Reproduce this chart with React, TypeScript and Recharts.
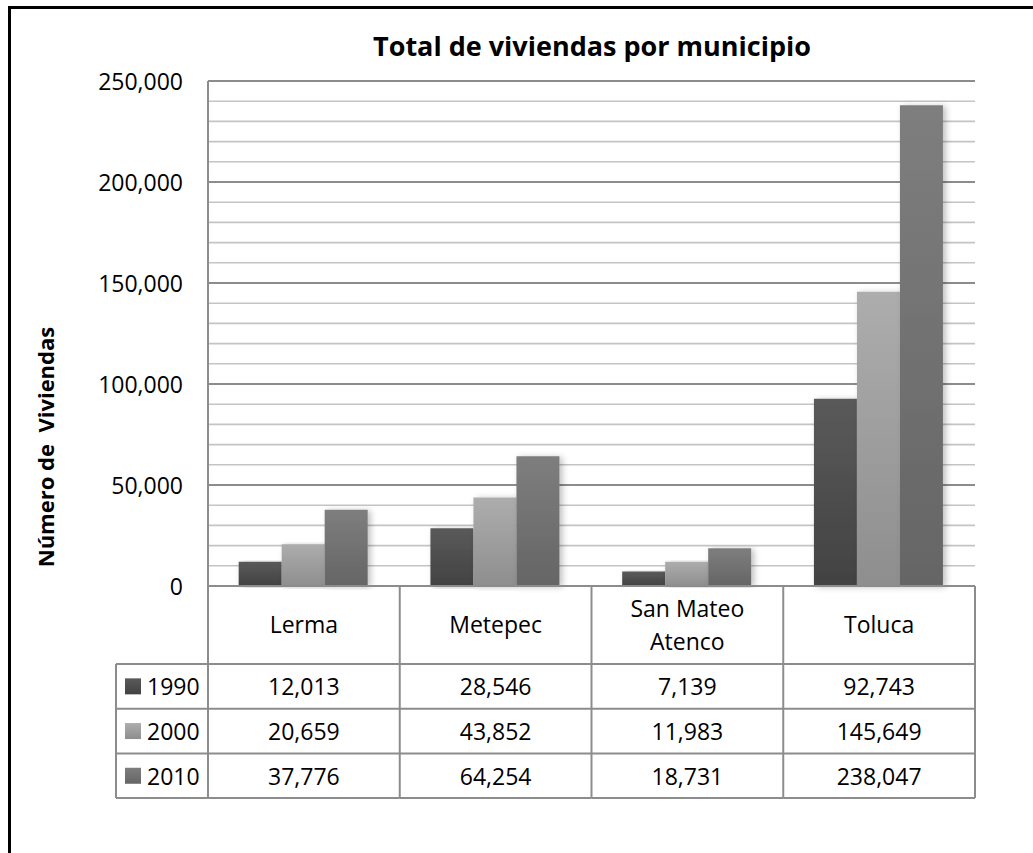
import React from "react";
import { Bar, BarChart, CartesianGrid, Text, XAxis, YAxis } from "recharts";

const CATEGORIES = ["Lerma", "Metepec", "San Mateo Atenco", "Toluca"];
const YEARS = ["1990", "2000", "2010"];
const V1990 = [12013, 28546, 7139, 92743];
const V2000 = [20659, 43852, 11983, 145649];
const V2010 = [37776, 64254, 18731, 238047];
const Y_TICKS = [
  0, 10000, 20000, 30000, 40000, 50000, 60000, 70000, 80000, 90000, 100000,
  110000, 120000, 130000, 140000, 150000, 160000, 170000, 180000, 190000,
  200000, 210000, 220000, 230000, 240000, 250000,
];
const Y_LABELED = [0, 50000, 100000, 150000, 200000, 250000];

const SERIES = [
  { key: "y1990", grad: "g1990", values: V1990 },
  { key: "y2000", grad: "g2000", values: V2000 },
  { key: "y2010", grad: "g2010", values: V2010 },
];

const data = CATEGORIES.map((name, i) => ({
  name,
  y1990: V1990[i],
  y2000: V2000[i],
  y2010: V2010[i],
}));

// layout
const W = 1033;
const H = 853;
const PLOT_LEFT = 208;
const PLOT_RIGHT = 975;
const PLOT_TOP = 81;
const PLOT_BOTTOM = 586;
const BAND = (PLOT_RIGHT - PLOT_LEFT) / CATEGORIES.length;
const HEADER_H = 78;
const ROW_H = 44.7;
const LEGEND_W = 92;
const LINE = "#8c8c8c";
const FONT = "'Open Sans', sans-serif";
const FS = 23;

const fmt = (v: number) => v.toLocaleString("en-US");

function YTick({ x, y, payload }: any) {
  if (!Y_LABELED.includes(payload.value)) return <g />;
  return (
    <text
      x={x}
      y={y}
      textAnchor="end"
      dominantBaseline="central"
      fontFamily={FONT}
      fontSize={FS}
      fill="#000"
    >
      {fmt(payload.value)}
    </text>
  );
}

function TableTick({ x, y, payload, index }: any) {
  const i = index ?? CATEGORIES.indexOf(payload.value);
  const left = x - BAND / 2;
  const right = x + BAND / 2;
  const bottom = y + HEADER_H + ROW_H * YEARS.length;
  return (
    <g>
      {i === 0 && (
        <g>
          <line x1={left} y1={y} x2={left} y2={bottom} stroke={LINE} strokeWidth={2} />
          <line
            x1={left - LEGEND_W}
            y1={y + HEADER_H}
            x2={left - LEGEND_W}
            y2={bottom}
            stroke={LINE}
            strokeWidth={2}
          />
          {YEARS.map((yr, r) => {
            const cy = y + HEADER_H + ROW_H * r + ROW_H / 2;
            return (
              <g key={yr}>
                <line
                  x1={left - LEGEND_W}
                  y1={y + HEADER_H + ROW_H * r}
                  x2={left}
                  y2={y + HEADER_H + ROW_H * r}
                  stroke={LINE}
                  strokeWidth={2}
                />
                <rect
                  x={left - LEGEND_W + 9}
                  y={cy - 8}
                  width={16}
                  height={16}
                  fill={`url(#${SERIES[r].grad})`}
                />
                <text
                  x={left - LEGEND_W + 31}
                  y={cy}
                  dominantBaseline="central"
                  fontFamily={FONT}
                  fontSize={FS}
                  fill="#000"
                >
                  {yr}
                </text>
              </g>
            );
          })}
          <line
            x1={left - LEGEND_W}
            y1={bottom}
            x2={left}
            y2={bottom}
            stroke={LINE}
            strokeWidth={2}
          />
        </g>
      )}
      <line x1={right} y1={y} x2={right} y2={bottom} stroke={LINE} strokeWidth={2} />
      <Text
        x={x}
        y={y + HEADER_H / 2}
        width={130}
        textAnchor="middle"
        verticalAnchor="middle"
        lineHeight="1.43em"
        style={{ fontFamily: FONT, fontSize: FS }}
        fontFamily={FONT}
        fontSize={FS}
        fill="#000"
      >
        {payload.value}
      </Text>
      {SERIES.map((s, r) => {
        const top = y + HEADER_H + ROW_H * r;
        return (
          <g key={s.key}>
            <line x1={left} y1={top} x2={right} y2={top} stroke={LINE} strokeWidth={2} />
            <text
              x={x}
              y={top + ROW_H / 2}
              textAnchor="middle"
              dominantBaseline="central"
              fontFamily={FONT}
              fontSize={FS}
              fill="#000"
            >
              {fmt(s.values[i])}
            </text>
          </g>
        );
      })}
      <line x1={left} y1={bottom} x2={right} y2={bottom} stroke={LINE} strokeWidth={2} />
    </g>
  );
}

function GridLine(props: any) {
  const { x1, x2, y1, y2, index } = props;
  const major = index % 5 === 0;
  return (
    <line
      key={props.key}
      x1={x1}
      x2={x2}
      y1={y1}
      y2={y2}
      stroke={major ? "#8c8c8c" : "#c4c4c4"}
      strokeWidth={major ? 2 : 1.6}
    />
  );
}

export default function App() {
  return (
    <div
      style={{
        position: "fixed",
        left: 0,
        top: 0,
        width: W,
        height: H,
        background: "#fff",
        overflow: "hidden",
        fontFamily: FONT,
      }}
    >
      {/* outer frame, only top and left edges fall inside the picture */}
      <div
        style={{
          position: "absolute",
          left: 8,
          top: 6,
          width: 1200,
          height: 1000,
          border: "3px solid #000",
        }}
      />
      <div
        style={{
          position: "absolute",
          left: 592,
          top: 45,
          transform: "translate(-50%, -50%)",
          fontWeight: 700,
          fontSize: 27,
          whiteSpace: "nowrap",
        }}
      >
        Total de viviendas por municipio
      </div>
      <div
        style={{
          position: "absolute",
          left: 45,
          top: 447,
          transform: "translate(-50%, -50%) rotate(-90deg)",
          fontWeight: 700,
          fontSize: 22,
          whiteSpace: "pre",
        }}
      >
        Número de  Viviendas
      </div>
      <div style={{ position: "absolute", left: 0, top: 0 }}>
        <BarChart
          width={W}
          height={H}
          data={data}
          margin={{
            top: PLOT_TOP,
            right: W - PLOT_RIGHT,
            left: PLOT_LEFT - 100,
            bottom: H - PLOT_BOTTOM - 220,
          }}
          barCategoryGap="16%"
          barGap={0}
        >
          <defs>
            <linearGradient id="g1990" x1="0" y1="0" x2="0" y2="1">
              <stop offset="0%" stopColor="#5a5a5a" />
              <stop offset="100%" stopColor="#424242" />
            </linearGradient>
            <linearGradient id="g2000" x1="0" y1="0" x2="0" y2="1">
              <stop offset="0%" stopColor="#adadad" />
              <stop offset="100%" stopColor="#8e8e8e" />
            </linearGradient>
            <linearGradient id="g2010" x1="0" y1="0" x2="0" y2="1">
              <stop offset="0%" stopColor="#7e7e7e" />
              <stop offset="100%" stopColor="#656565" />
            </linearGradient>
            <filter id="barShadow" x="-20%" y="-5%" width="150%" height="110%">
              <feDropShadow dx="3" dy="1" stdDeviation="3" floodColor="#000" floodOpacity="0.25" />
            </filter>
          </defs>
          <CartesianGrid vertical={false} horizontal={GridLine} />
          <YAxis
            width={100}
            domain={[0, 250000]}
            ticks={Y_TICKS}
            interval={0}
            tick={<YTick />}
            tickLine={false}
            tickSize={25}
            tickMargin={0}
            axisLine={{ stroke: LINE, strokeWidth: 2 }}
          />
          <XAxis
            dataKey="name"
            height={220}
            interval={0}
            tick={<TableTick />}
            tickLine={false}
            tickSize={0}
            tickMargin={0}
            axisLine={{ stroke: LINE, strokeWidth: 2 }}
          />
          {SERIES.map((s) => (
            <Bar
              key={s.key}
              dataKey={s.key}
              fill={`url(#${s.grad})`}
              filter="url(#barShadow)"
              isAnimationActive={false}
            />
          ))}
        </BarChart>
      </div>
    </div>
  );
}
